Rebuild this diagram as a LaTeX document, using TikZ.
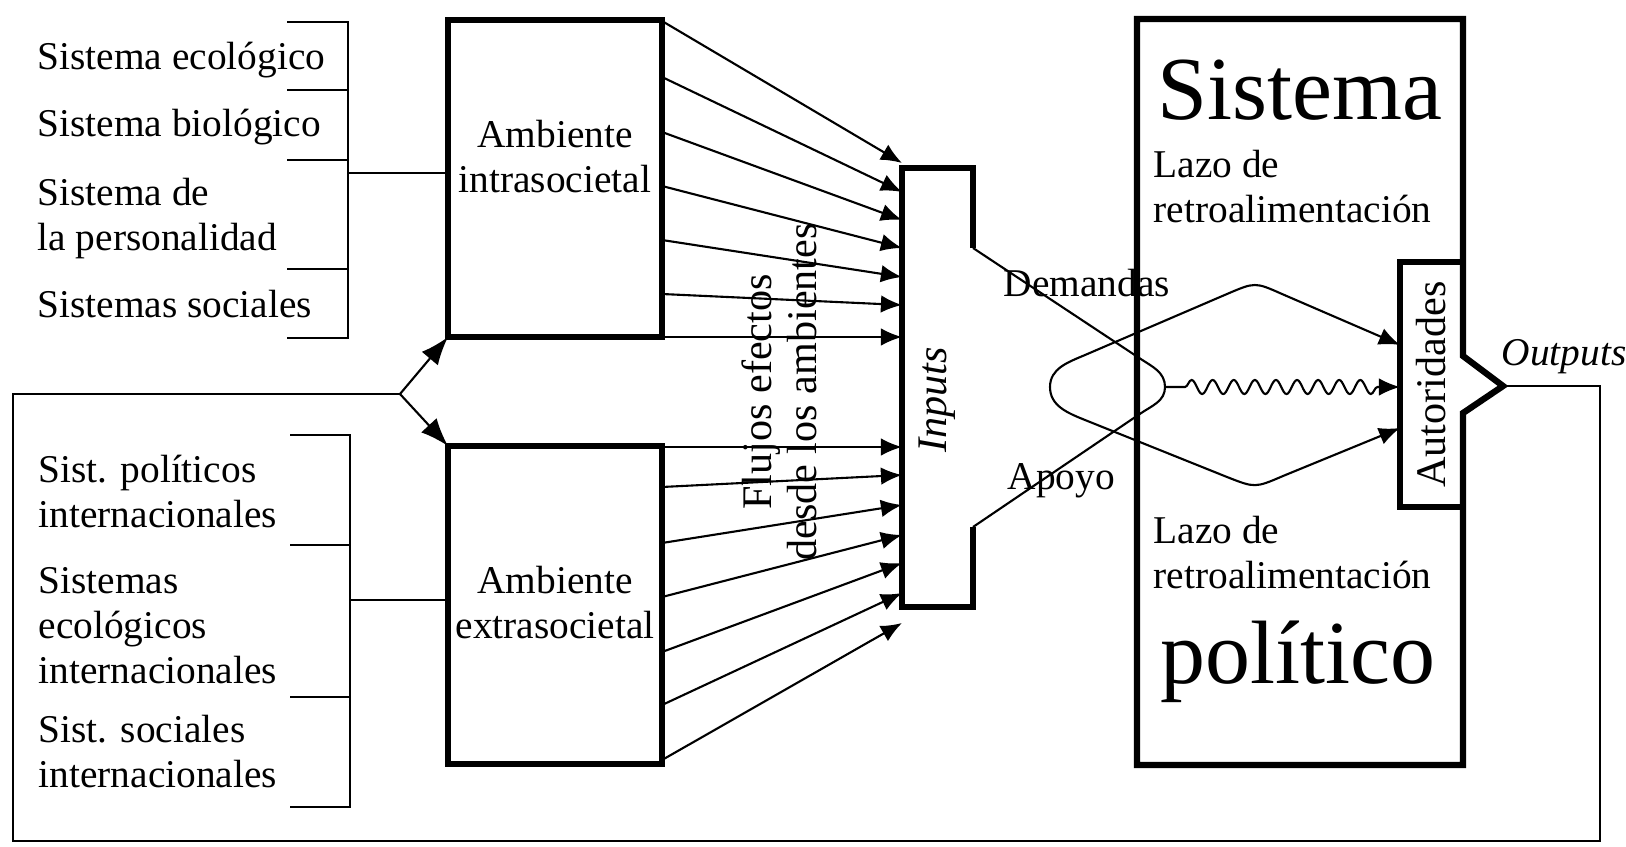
\documentclass[tikz,border=0pt]{standalone}
\usepackage{fontspec}
\setmainfont{Liberation Serif}
\usetikzlibrary{arrows.meta, positioning, calc}
\usetikzlibrary{decorations.pathmorphing}

\begin{document}
\begin{tikzpicture}[>={Latex[length=6pt,width=5pt]},
    txt/.style={inner sep=0pt, font=\fontsize{11.2}{12.8}\selectfont},
    rtxt/.style={inner sep=0pt, rotate=90, font=\fontsize{12}{12.8}\selectfont},
    bigtxt/.style={inner sep=0pt, font=\fontsize{25.6}{28}\selectfont},
    boxframe/.style={inner sep=0pt, outer sep=0pt},
    thickline/.style={line width=1.8pt},
    thinline/.style={line width=0.6pt}]

\useasboundingbox (0,0) rectangle (16.26,-8.46);

% Environment boxes
\node[boxframe, draw, thickline, minimum width=2.14cm, minimum height=3.17cm] (intra) at (5.55,-1.785) {};
\node[boxframe, draw, thickline, minimum width=2.14cm, minimum height=3.18cm] (extra) at (5.55,-6.05) {};
\node[txt, align=center] (intralbl) at (5.55,-1.57) {Ambiente\\intrasocietal};
\node[txt, align=center] (extralbl) at (5.55,-6.03) {Ambiente\\extrasocietal};

% Left lists
\node[txt, anchor=base west] (ecol) at (0.37,-0.70) {Sistema ecológico};
\node[txt, anchor=base west] (biol) at (0.37,-1.37) {Sistema biológico};
\node[txt, anchor=west, align=left] (pers) at (0.37,-2.19) {Sistema de\\la personalidad};
\node[txt, anchor=base west] (soc) at (0.37,-3.17) {Sistemas sociales};
\node[txt, anchor=west, align=left] (polint) at (0.38,-4.915) {Sist. políticos\\internacionales};
\node[txt, anchor=west, align=left] (ecoint) at (0.38,-6.255) {Sistemas\\ecológicos\\internacionales};
\node[txt, anchor=west, align=left] (socint) at (0.38,-7.52) {Sist. sociales\\internacionales};

% Brackets
\draw[thinline] (2.87,-0.22) -- (3.48,-0.22) -- (3.48,-3.38) -- (2.87,-3.38);
\foreach \y in {-0.90,-1.60,-2.69} \draw[thinline] (2.87,\y) -- (3.48,\y);
\coordinate (brkup) at (3.48,-1.73);
\draw[thinline] (brkup) -- (brkup -| intra.west);

\draw[thinline] (2.90,-4.35) -- (3.50,-4.35) -- (3.50,-8.07) -- (2.90,-8.07);
\foreach \y in {-5.45,-6.97} \draw[thinline] (2.90,\y) -- (3.50,\y);
\coordinate (brklow) at (3.50,-6.00);
\draw[thinline] (brklow) -- (brklow -| extra.west);

% Inputs
\node[boxframe, minimum width=0.71cm, minimum height=4.39cm] (inputs) at (9.375,-3.875) {};
\draw[thickline] ($(inputs.north east)+(0,-0.80)$) coordinate (dem) -- (inputs.north east)
    -- (inputs.north west) -- (inputs.south west) -- (inputs.south east) -- ++(0,0.80) coordinate (apo);
\node[rtxt] (inlbl) at (9.37,-4.0) {\itshape Inputs};

% Flows from the environments
\foreach \a/\b in {-0.21/-1.63, -0.77/-1.92, -1.32/-2.20, -1.86/-2.48, -2.40/-2.77, -2.94/-3.05, -3.37/-3.37}
  \draw[->, thinline] (intra.east |- 0,\a) -- (inputs.west |- 0,\b);
\foreach \a/\b in {-4.47/-4.47, -4.87/-4.75, -5.43/-5.05, -5.97/-5.35, -6.52/-5.63, -7.05/-5.93, -7.60/-6.23}
  \draw[->, thinline] (extra.east |- 0,\a) -- (inputs.west |- 0,\b);
\node[rtxt, align=center] (flujos) at (7.79,-3.92) {Flujos efectos\\desde los ambientes};

% Political system
\node[boxframe, minimum width=3.26cm, minimum height=7.46cm] (sistema) at (13.00,-3.92) {};
\draw[thickline] (sistema.north west) -- (sistema.north east) -- (sistema.east |- 0,-3.56)
    -- (15.03,-3.86) coordinate (outtip) -- (sistema.east |- 0,-4.13) -- (sistema.south east)
    -- (sistema.south west) -- cycle;
\node[boxframe, minimum width=0.63cm, minimum height=2.45cm] (aut) at (14.315,-3.845) {};
\draw[thickline] (aut.north east) -- (aut.north west) -- (aut.south west) -- (aut.south east);
\node[rtxt] (autlbl) at (aut) {Autoridades};

\node[bigtxt, anchor=base] (sist) at (13.00,-1.20) {Sistema};
\node[bigtxt, anchor=base] (polit) at (12.98,-6.83) {político};
\node[txt, anchor=west, align=left] (lazoup) at (11.53,-1.87) {Lazo de\\retroalimentación};
\node[txt, anchor=west, align=left] (lazolow) at (11.53,-5.53) {Lazo de\\retroalimentación};

% Demands and support
\node[txt, anchor=base west] (demlbl) at (10.03,-2.96) {Demandas};
\node[txt, anchor=base west] (apolbl) at (10.07,-4.89) {Apoyo};
\coordinate (loopR) at (11.65,-3.87);
\draw[thinline] (dem) -- (11.40,-3.585) to[out=-33.5,in=90] (loopR)
    to[out=-90,in=34.4] (11.40,-4.138) -- (apo);
\draw[<->, thinline] (aut.west |- 0,-3.45) -- (12.82,-2.94) .. controls (12.55,-2.82) .. (12.27,-2.94)
    -- (10.85,-3.55) to[out=203,in=90] (10.50,-3.87) to[out=-90,in=158] (10.85,-4.20)
    -- (12.27,-4.77) .. controls (12.55,-4.88) .. (12.83,-4.76) -- (aut.west |- 0,-4.28);
\draw[->, thinline, decorate, decoration={snake, amplitude=2pt, segment length=6pt,
    pre length=0.2cm, post length=0.15cm}] (loopR) -- (aut.west |- loopR);

% Outputs and feedback
\node[txt, anchor=base west] (outlbl) at (15.01,-3.65) {\itshape Outputs};
\coordinate (fork) at (4.00,-3.94);
\draw[thinline] (outtip) -- (16.00,-3.86) -- (16.00,-8.41) -- (0.13,-8.41) -- (0.13,-3.94) -- (fork);
\draw[->, thinline, >={Latex[length=8pt,width=6pt]}] (fork) -- (intra.south west);
\draw[->, thinline, >={Latex[length=8pt,width=6pt]}] (fork) -- (extra.north west);

\end{tikzpicture}
\end{document}
